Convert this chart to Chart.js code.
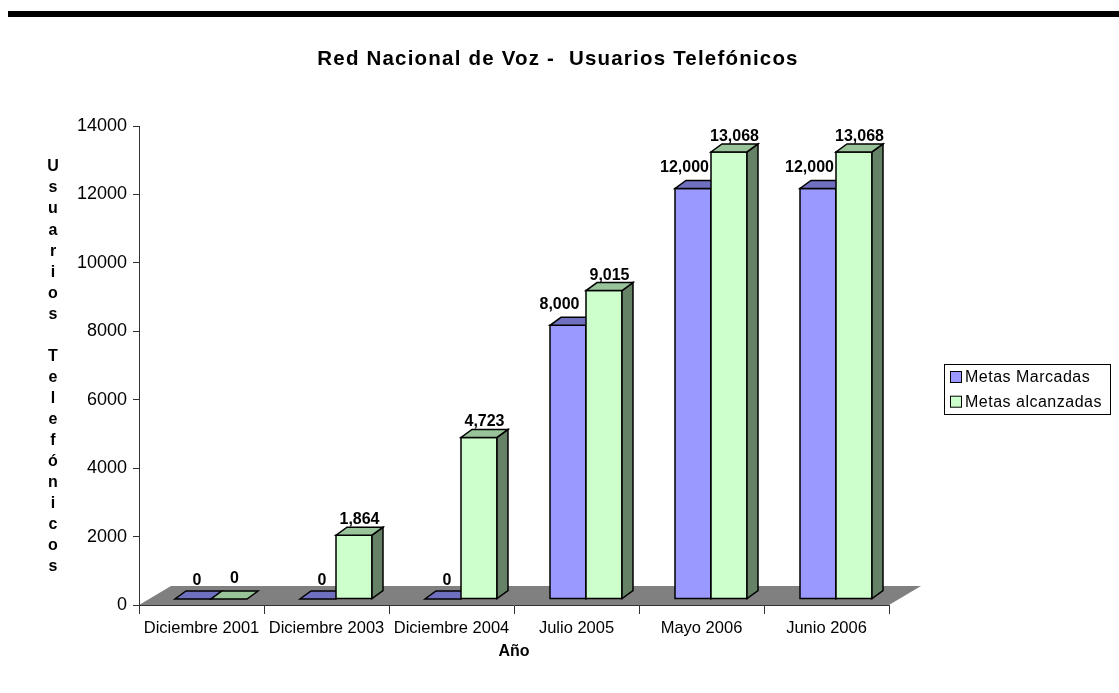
<!DOCTYPE html>
<html><head><meta charset="utf-8">
<script src="https://cdn.jsdelivr.net/npm/chart.js@4"></script>
<style>html,body{margin:0;padding:0;background:#fff;}#wrap{width:1119px;height:693px;}</style>
</head><body><div id="wrap"><canvas id="c" width="1119" height="693"></canvas></div>
<script>
const categories = ['Diciembre 2001','Diciembre 2003','Diciembre 2004','Julio 2005','Mayo 2006','Junio 2006'];
const metasMarcadas = [0, 0, 0, 8000, 12000, 12000];
const metasAlcanzadas = [0, 1864, 4723, 9015, 13068, 13068];
const seriesLabels = ['Metas Marcadas', 'Metas alcanzadas'];
const yMin = 0, yMax = 14000, yStep = 2000;
const titleText = 'Red Nacional de Voz -  Usuarios Telefónicos';
const yTitleText = 'Usuarios Telefónicos';
const xTitleText = 'Año';

const FONT = '"Liberation Sans", Arial, sans-serif';
const faces = [
  {front:'#9999FF', top:'#7070C0', side:'#50508A'},
  {front:'#CCFFCC', top:'#99C499', side:'#668266'}
];
const OX = 9.5, OY = -6, DX = 11, DY = 8;

function poly(ctx, pts, fill){
  ctx.beginPath();
  ctx.moveTo(pts[0][0], pts[0][1]);
  for (let k=1;k<pts.length;k++) ctx.lineTo(pts[k][0], pts[k][1]);
  ctx.closePath();
  ctx.fillStyle = fill; ctx.fill();
  ctx.stroke();
}

const deco = {
  id:'deco',
  beforeDraw(chart){
    const ctx = chart.ctx;
    ctx.save();
    ctx.fillStyle = '#fff';
    ctx.fillRect(0,0,chart.width,chart.height);
    ctx.fillStyle = '#000';
    ctx.fillRect(8, 11, chart.width-8, 6);
    ctx.restore();
  },
  beforeDatasetsDraw(chart){
    const ctx = chart.ctx, a = chart.chartArea;
    ctx.save();
    ctx.beginPath();
    ctx.moveTo(a.left, a.bottom);
    ctx.lineTo(a.right, a.bottom);
    ctx.lineTo(a.right+32, a.bottom-19);
    ctx.lineTo(a.left+32, a.bottom-19);
    ctx.closePath();
    ctx.fillStyle = '#808080';
    ctx.fill();
    ctx.restore();
  },
  afterDatasetsDraw(chart){
    const ctx = chart.ctx;
    ctx.save();
    ctx.lineWidth = 1.5;
    ctx.strokeStyle = '#000';
    ctx.lineJoin = 'miter';
    const n = categories.length;
    for (let i=0;i<n;i++){
      chart.data.datasets.forEach((ds, d) => {
        const el = chart.getDatasetMeta(d).data[i];
        const x0 = el.x - el.width/2 + OX, x1 = el.x + el.width/2 + OX;
        const yT = el.y + OY, yB = el.base + OY;
        const f = faces[d];
        if (yB - yT > 0.5){
          poly(ctx, [[x0,yT],[x1,yT],[x1,yB],[x0,yB]], f.front);
          poly(ctx, [[x1,yT],[x1+DX,yT-DY],[x1+DX,yB-DY],[x1,yB]], f.side);
        }
        poly(ctx, [[x0,yT],[x1,yT],[x1+DX,yT-DY],[x0+DX,yT-DY]], f.top);
        const v = ds.data[i];
        const txt = v.toLocaleString('en-US');
        const cx = (x0+x1)/2;
        let lx, gap;
        if (d === 1){ lx = cx + DX/2; gap = v ? 3 : 8; }
        else { lx = v ? cx - 8.5 : cx + 4; gap = v ? 8 : 6; }
        ctx.save();
        ctx.font = 'bold 16px ' + FONT;
        ctx.fillStyle = '#000';
        ctx.textAlign = 'center';
        ctx.textBaseline = 'alphabetic';
        ctx.fillText(txt, lx, yT - DY - gap);
        ctx.restore();
      });
    }
    ctx.restore();
  },
  afterDraw(chart){
    const ctx = chart.ctx, a = chart.chartArea;
    ctx.save();
    ctx.fillStyle = '#000';
    ctx.font = 'bold 20.5px ' + FONT;
    ctx.letterSpacing = '1.2px';
    ctx.textAlign = 'center';
    ctx.textBaseline = 'middle';
    ctx.fillText(titleText, 558, 59);
    ctx.letterSpacing = '0px';
    ctx.font = 'bold 16px ' + FONT;
    const chars = Array.from(yTitleText);
    chars.forEach((ch, k) => { ctx.fillText(ch, 53, 167 + k*21.04); });
    ctx.font = 'bold 16px ' + FONT;
    ctx.fillText(xTitleText, (a.left+a.right)/2, 652);
    ctx.lineWidth = 1;
    ctx.strokeStyle = '#000';
    ctx.strokeRect(944.5, 364.5, 166, 50);
    ctx.font = '16px ' + FONT;
    ctx.letterSpacing = '0.5px';
    ctx.textAlign = 'left';
    seriesLabels.forEach((lab, k) => {
      const cy = 377 + k*24.7;
      ctx.fillStyle = faces[k].front;
      ctx.fillRect(950.5, cy-5.5, 11, 11);
      ctx.strokeRect(950.5, cy-5.5, 11, 11);
      ctx.fillStyle = '#000';
      ctx.fillText(lab, 965, cy+0.5);
    });
    ctx.restore();
  }
};

new Chart(document.getElementById('c'), {
  type:'bar',
  data:{
    labels: categories,
    datasets:[
      {label: seriesLabels[0], data: metasMarcadas, backgroundColor:'rgba(0,0,0,0)', borderWidth:0, categoryPercentage:0.576, barPercentage:1},
      {label: seriesLabels[1], data: metasAlcanzadas, backgroundColor:'rgba(0,0,0,0)', borderWidth:0, categoryPercentage:0.576, barPercentage:1}
    ]
  },
  plugins:[deco],
  options:{
    responsive:false,
    animation:false,
    devicePixelRatio:1,
    layout:{padding:{left:0, top:126, right:230, bottom:0}},
    plugins:{legend:{display:false}, title:{display:false}, tooltip:{enabled:false}},
    scales:{
      x:{
        offset:true,
        grid:{offset:true, drawOnChartArea:false, tickLength:9, color:'#333', lineWidth:1},
        border:{color:'#333', width:1},
        ticks:{font:{family:FONT, size:16.5}, color:'#000', padding:5, maxRotation:0, autoSkip:false},
        afterFit(s){ s.height = 88; }
      },
      y:{
        min:yMin, max:yMax,
        grid:{drawOnChartArea:false, tickLength:6, color:'#333', lineWidth:1},
        border:{color:'#333', width:1},
        ticks:{stepSize:yStep, font:{family:FONT, size:18}, color:'#000', padding:6, callback:(v)=>String(v)},
        afterFit(s){ s.width = 139; }
      }
    }
  }
});
</script></body></html>
